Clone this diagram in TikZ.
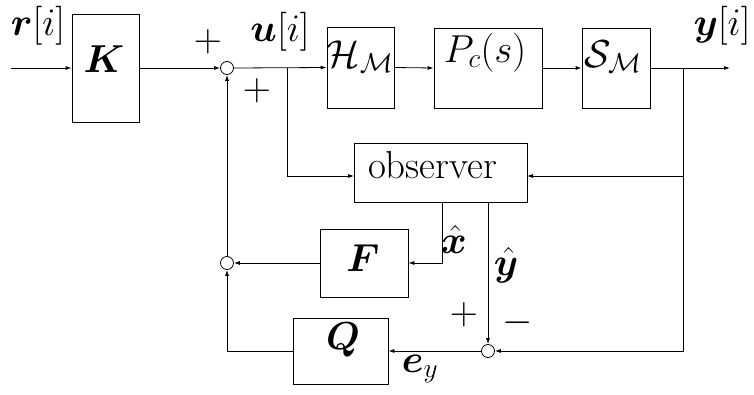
\RequirePackage{fix-cm}
\documentclass[tikz,border=0pt]{standalone}
\usepackage{amsmath,bm}
\usetikzlibrary{arrows.meta}
\begin{document}
\begin{tikzpicture}[x=1pt,y=-1pt, line width=0.8pt,
  >={Latex[length=6pt,width=4pt]},
  blk/.style={draw, inner sep=0pt},
  lab/.style={inner sep=0pt, font=\fontsize{39}{46}\selectfont},
  sumc/.style={draw, circle, minimum size=13pt, inner sep=0pt}]
\useasboundingbox (0,0) rectangle (754,394);
% blocks
\node[blk, minimum width=67pt, minimum height=108pt] (K) at (105.5,68) {};
\node[blk, minimum width=67pt, minimum height=81pt] (H) at (360.5,67.5) {};
\node[blk, minimum width=108pt, minimum height=80pt] (P) at (488,68) {};
\node[blk, minimum width=68pt, minimum height=80pt] (S) at (616,68) {};
\node[blk, minimum width=173pt, minimum height=59pt] (obs) at (440.5,172.5) {};
\node[blk, minimum width=88pt, minimum height=68pt] (F) at (364,263) {};
\node[blk, minimum width=95pt, minimum height=66pt] (Q) at (340.5,351) {};
% summing junctions
\node[sumc] (s1) at (227,68) {};
\node[sumc] (s2) at (227,263) {};
\node[sumc] (s3) at (488,351) {};
% labels
\node[lab, anchor=base] (rlab) at (38,35) {$\bm{r}[i]$};
\node[lab, anchor=base] (Klab) at (104,72) {$\bm{K}$};
\node[lab] (plus1) at (208,42) {$+$};
\node[lab, anchor=base] (ulab) at (280,41.5) {$\bm{u}[i]$};
\node[lab] (plus2) at (257,91) {$+$};
\node[lab, anchor=base] (Hlab) at (360,67) {$\mathcal{H}_{\mathcal{M}}$};
\node[lab, anchor=base] (Plab) at (485,62) {$P_c(s)$};
\node[lab, anchor=base] (Slab) at (613,67) {$\mathcal{S}_{\mathcal{M}}$};
\node[lab, anchor=base] (ylab) at (722,35) {$\bm{y}[i]$};
\node[lab, anchor=base] (obslab) at (432.5,178) {observer};
\node[lab, anchor=base] (xhat) at (454,253) {$\hat{\bm{x}}$};
\node[lab, anchor=base] (yhat) at (506,275) {$\hat{\bm{y}}$};
\node[lab, anchor=base] (Flab) at (363,271) {$\bm{F}$};
\node[lab] (plus3) at (464,315) {$+$};
\node[lab] (minus) at (518,323) {$-$};
\node[lab, anchor=base] (Qlab) at (343,349) {$\bm{Q}$};
\node[lab, anchor=base] (eylab) at (420,372) {$\bm{e}_y$};
% coordinates
\coordinate (in) at (11,68);
\coordinate (b1) at (287,68);
\coordinate (obsL) at (354,176);
\coordinate (out) at (730,68);
\coordinate (b2) at (683,68);
\coordinate (obsR) at (527,176);
\coordinate (o1) at (442,202);
\coordinate (o2) at (488,202);
% connectors
\draw[->] (in) -- (K.west);
\draw[->] (K.east) -- (s1.west);
\draw[->] (s1.east) -- (H.west);
\draw[->] (b1) |- (obsL);
\draw[->] (H.east) -- (P.west);
\draw[->] (P.east) -- (S.west);
\draw[->] (S.east) -- (out);
\draw[->] (b2) |- (obsR);
\draw[->] (b2) |- (s3.east);
\draw[->] (o1) |- (F.east);
\draw[->] (o2) -- (s3.north);
\draw[->] (s3.west) -- (Q.east);
\draw[->] (F.west) -- (s2.east);
\draw[->] (s2.north) -- (s1.south);
\draw[->] (Q.west) -| (s2.south);
\end{tikzpicture}
\end{document}
